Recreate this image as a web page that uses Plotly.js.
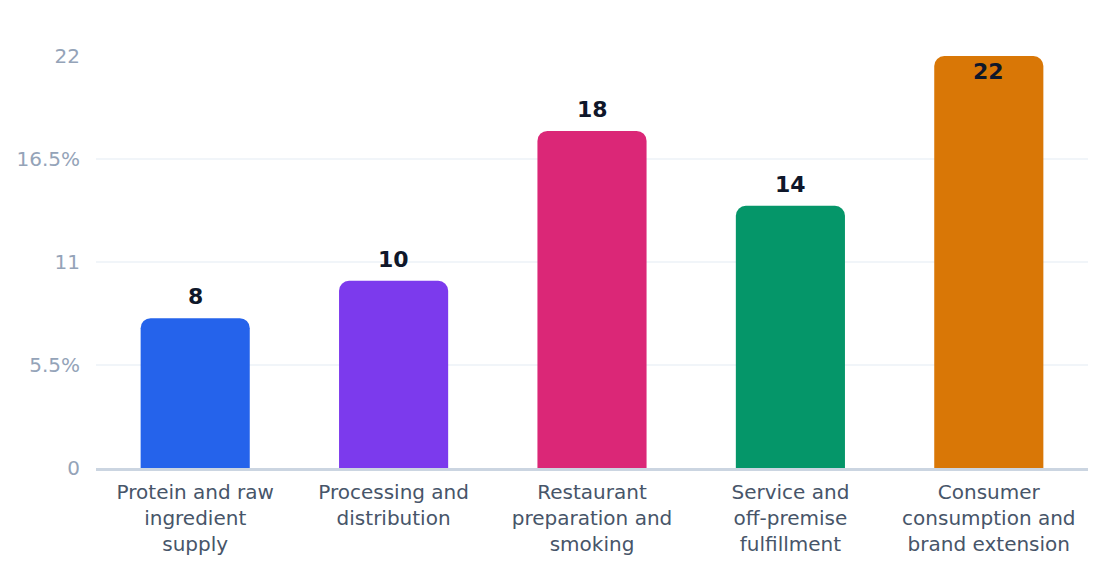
<!DOCTYPE html>
<html>
<head>
<meta charset="utf-8">
<script src="https://cdn.plot.ly/plotly-3.0.1.min.js"></script>
<style>
  html, body { margin: 0; padding: 0; background: #ffffff; }
  #chart { width: 1120px; height: 584px; }
</style>
</head>
<body>
<div id="chart"></div>
<script>
// stage labels, values and colours
const stages = [
  "Protein and raw<br>ingredient<br>supply",
  "Processing and<br>distribution",
  "Restaurant<br>preparation and<br>smoking",
  "Service and<br>off-premise<br>fulfillment",
  "Consumer<br>consumption and<br>brand extension"
];
const shares = [8, 10, 18, 14, 22];
const barColors = ["#2563eb", "#7c3aed", "#db2777", "#059669", "#d97706"];
const tickVals = [0, 5.5, 11, 16.5, 22];
const tickText = ["0", "5.5%", "11", "16.5%", "22"];
const yMax = 22;

var data = [{
    type: "bar",
    x: stages,
    y: shares,
    marker: { color: barColors, cornerradius: 10, line: { width: 0 } },
    hoverinfo: "none"
}];

// value labels: above the bar, or just inside when the bar hits the top
var labels = shares.map((v, i) => {
    var top = v >= yMax;
    return {
        x: stages[i],
        y: v,
        text: String(v),
        showarrow: false,
        xanchor: "center",
        yanchor: top ? "top" : "bottom",
        yshift: top ? -1 : 7,
        font: { family: "DejaVu Sans", size: 22, color: "#0f172a", weight: "bold" }
    };
});

var layout = {
    width: 1120,
    height: 584,
    margin: { t: 56, l: 96, r: 32, b: 116 },
    paper_bgcolor: "#ffffff",
    plot_bgcolor: "#ffffff",
    bargap: 0.45,
    showlegend: false,
    font: { family: "DejaVu Sans", size: 20, color: "#475569" },
    annotations: labels,
    xaxis: {
        showline: true,
        linecolor: "#cbd5e1",
        linewidth: 2.5,
        showgrid: false,
        zeroline: false,
        ticks: "outside",
        ticklen: 4,
        tickcolor: "rgba(0,0,0,0)",
        tickfont: { size: 20, color: "#475569" }
    },
    yaxis: {
        range: [0, yMax],
        tickvals: tickVals,
        ticktext: tickText,
        showgrid: true,
        gridcolor: "#f1f5f9",
        gridwidth: 2,
        zeroline: false,
        showline: false,
        ticks: "outside",
        ticklen: 11,
        tickcolor: "rgba(0,0,0,0)",
        tickfont: { size: 20, color: "#94a3b8" }
    }
};

Plotly.newPlot("chart", data, layout, { displayModeBar: false, staticPlot: true });
</script>
</body>
</html>
